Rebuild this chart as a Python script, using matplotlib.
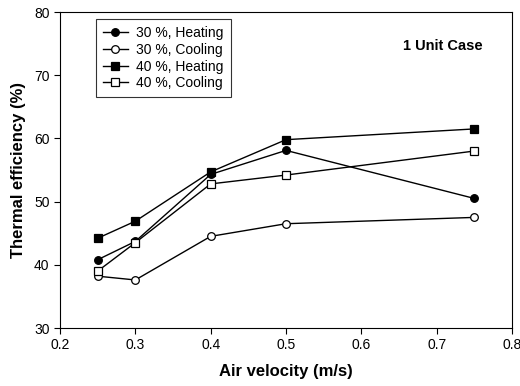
import numpy as np
import matplotlib.pyplot as plt

plt.rcParams['font.family'] = ['Liberation Sans', 'DejaVu Sans']

velocity = [0.25, 0.3, 0.4, 0.5, 0.75]
heat30 = [40.8, 43.7, 54.3, 58.1, 50.5]
cool30 = [38.2, 37.6, 44.5, 46.5, 47.5]
heat40 = [44.2, 46.9, 54.7, 59.8, 61.5]
cool40 = [39.0, 43.5, 52.8, 54.2, 58.0]

fig = plt.figure(figsize=(5.2, 3.86), dpi=100)
ax = fig.add_axes([60/520, 1 - 328/386, 452/520, 316/386])

kw = dict(color='black', lw=1.0, ms=5.5, mec='black', mew=0.9)
ax.plot(velocity, heat30, marker='o', mfc='black', label='30 %, Heating', **kw)
ax.plot(velocity, cool30, marker='o', mfc='white', label='30 %, Cooling', **kw)
ax.plot(velocity, heat40, marker='s', mfc='black', label='40 %, Heating', **kw)
ax.plot(velocity, cool40, marker='s', mfc='white', label='40 %, Cooling', **kw)

ax.set_xlim(0.2, 0.8)
ax.set_ylim(30, 80)
ax.set_xticks(np.arange(0.2, 0.81, 0.1))
ax.set_yticks(np.arange(30, 81, 10))
ax.tick_params(direction='out', length=4, labelsize=10, top=False, right=False)
ax.set_xlabel('Air velocity (m/s)', fontsize=12, fontweight='bold', labelpad=8)
ax.set_ylabel('Thermal efficiency (%)', fontsize=12, fontweight='bold', labelpad=6)

ax.text(0.934, 0.892, '1 Unit Case', transform=ax.transAxes, ha='right', va='center',
        fontsize=10.5, fontweight='bold')

leg = ax.legend(loc='upper left', bbox_to_anchor=(36/452, 1 - 7/316), borderaxespad=0,
                fontsize=10, frameon=True, fancybox=False, edgecolor='black',
                handlelength=1.8, handletextpad=0.6, borderpad=0.5, labelspacing=0.2)
leg.get_frame().set_linewidth(0.8)

fig.savefig('out.png', dpi=100)
